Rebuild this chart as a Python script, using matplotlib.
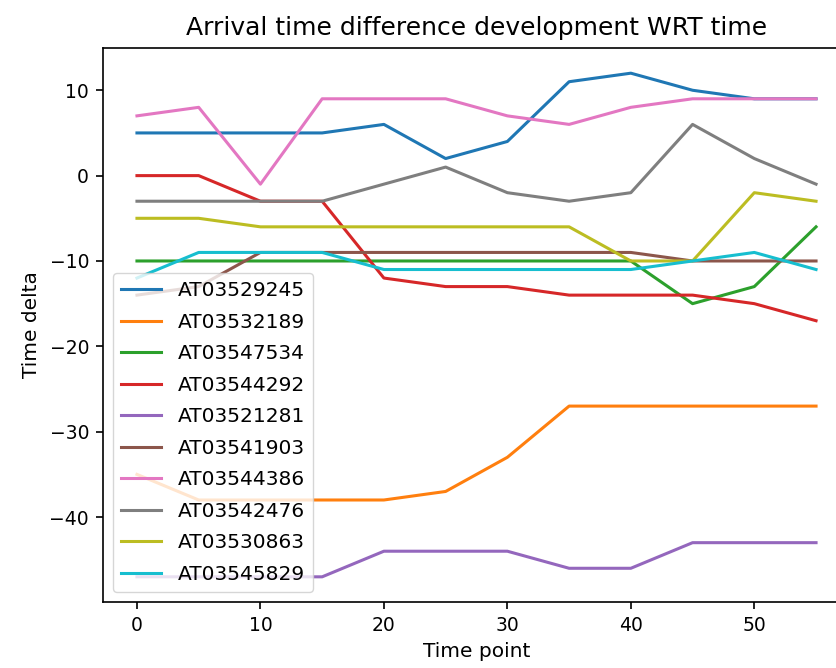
import matplotlib
matplotlib.use("Agg")
import matplotlib.pyplot as plt

time_points = [0, 5, 10, 15, 20, 25, 30, 35, 40, 45, 50, 55]

AT03529245 = [5, 5, 5, 5, 6, 2, 4, 11, 12, 10, 9, 9]
AT03532189 = [-35, -38, -38, -38, -38, -37, -33, -27, -27, -27, -27, -27]
AT03547534 = [-10, -10, -10, -10, -10, -10, -10, -10, -10, -15, -13, -6]
AT03544292 = [0, 0, -3, -3, -12, -13, -13, -14, -14, -14, -15, -17]
AT03521281 = [-47, -47, -47, -47, -44, -44, -44, -46, -46, -43, -43, -43]
AT03541903 = [-14, -13, -9, -9, -9, -9, -9, -9, -9, -10, -10, -10]
AT03544386 = [7, 8, -1, 9, 9, 9, 7, 6, 8, 9, 9, 9]
AT03542476 = [-3, -3, -3, -3, -1, 1, -2, -3, -2, 6, 2, -1]
AT03530863 = [-5, -5, -6, -6, -6, -6, -6, -6, -10, -10, -2, -3]
AT03545829 = [-12, -9, -9, -9, -11, -11, -11, -11, -11, -10, -9, -11]

series = [
    ("AT03529245", AT03529245),
    ("AT03532189", AT03532189),
    ("AT03547534", AT03547534),
    ("AT03544292", AT03544292),
    ("AT03521281", AT03521281),
    ("AT03541903", AT03541903),
    ("AT03544386", AT03544386),
    ("AT03542476", AT03542476),
    ("AT03530863", AT03530863),
    ("AT03545829", AT03545829),
]

plt.rcParams.update({'font.size': 14.5, 'axes.linewidth': 1.2,
                     'xtick.labelsize': 13.5, 'ytick.labelsize': 13.5,
                     'xtick.major.size': 5, 'ytick.major.size': 5,
                     'xtick.major.width': 1.2, 'ytick.major.width': 1.2,
                     'xtick.major.pad': 5, 'ytick.major.pad': 5})

fig = plt.figure(figsize=(8.37, 6.68), dpi=100)
# axes runs a bit past the right edge, like the cropped original
ax = fig.add_axes([103 / 837, 66 / 668, 747 / 837, 554 / 668])

for name, values in series:
    ax.plot(time_points, values, label=name, linewidth=2.2)

ax.set_title("Arrival time difference development WRT time", fontsize=18, pad=9)
ax.set_xlabel("Time point", labelpad=5)
ax.set_ylabel("Time delta", labelpad=6)
ax.legend(loc='lower left', fontsize=14.5, labelspacing=0.62)

fig.savefig("out.png", dpi=100)
